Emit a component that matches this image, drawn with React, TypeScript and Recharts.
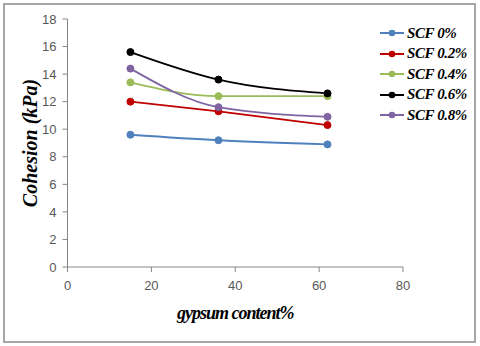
import { LineChart, Line, XAxis, YAxis, Label } from "recharts";

const gypsum = [15, 36, 62];
const scf0 = [9.6, 9.2, 8.9];
const scf02 = [12.0, 11.3, 10.3];
const scf04 = [13.4, 12.4, 12.4];
const scf06 = [15.6, 13.6, 12.6];
const scf08 = [14.4, 11.6, 10.9];
const xTicks = [0, 20, 40, 60, 80];
const yTicks = [0, 2, 4, 6, 8, 10, 12, 14, 16, 18];

const series = [
  { key: "scf0", name: "SCF 0%", values: scf0, color: "#4f81bd" },
  { key: "scf02", name: "SCF 0.2%", values: scf02, color: "#c00000" },
  { key: "scf04", name: "SCF 0.4%", values: scf04, color: "#9bbb59" },
  { key: "scf06", name: "SCF 0.6%", values: scf06, color: "#000000" },
  { key: "scf08", name: "SCF 0.8%", values: scf08, color: "#8064a2" },
];

const data = gypsum.map((g, i) => {
  const row: Record<string, number> = { gypsum: g };
  series.forEach((s) => (row[s.key] = s.values[i]));
  return row;
});

const serif = "'Liberation Serif', serif";
const sans = "'Liberation Sans', Arial, sans-serif";

function LegendBox() {
  return (
    <div style={{ position: "absolute", left: 379, top: 23 }}>
      {series.map((s) => (
        <div key={s.key} style={{ display: "flex", alignItems: "center", height: 20.5 }}>
          <svg width={26} height={10}>
            <line x1={1} y1={5} x2={25} y2={5} stroke={s.color} strokeWidth={2} />
            <circle cx={13} cy={5} r={3.3} fill={s.color} />
          </svg>
          <span
            style={{
              fontFamily: serif,
              fontStyle: "italic",
              fontWeight: "bold",
              fontSize: 15,
              letterSpacing: -0.4,
              color: "#000",
              marginLeft: 2,
              whiteSpace: "nowrap",
            }}
          >
            {s.name}
          </span>
        </div>
      ))}
    </div>
  );
}

export default function App() {
  return (
    <div style={{ position: "absolute", left: 0, top: 0, width: 480, height: 346, background: "#fff" }}>
      <div
        style={{
          position: "absolute",
          left: 3,
          top: 3,
          width: 469,
          height: 336,
          border: "2px solid #a6a6a6",
        }}
      />
      <div style={{ position: "absolute", left: 0, top: 0 }}>
        <LineChart width={480} height={346} data={data} margin={{ top: 19, right: 77, bottom: 0, left: 0 }}>
          <XAxis
            dataKey="gypsum"
            type="number"
            domain={[0, 80]}
            ticks={xTicks}
            height={79}
            stroke="#868686"
            tickSize={5}
            tickMargin={9}
            tick={{ fill: "#595959", fontSize: 13, fontFamily: sans }}
          >
            <Label
              value="gypsum content%"
              position="center"
              dy={6}
              fontFamily={serif}
              fontStyle="italic"
              fontWeight="bold"
              fontSize={18}
              letterSpacing={-1}
              fill="#000"
            />
          </XAxis>
          <YAxis
            type="number"
            domain={[0, 18]}
            ticks={yTicks}
            width={67.5}
            stroke="#868686"
            tickSize={5}
            tickMargin={6}
            tick={{ fill: "#595959", fontSize: 13, fontFamily: sans }}
          >
            <Label
              value="Cohesion (kPa)"
              angle={-90}
              position="center"
              dx={-4}
              fontFamily={serif}
              fontStyle="italic"
              fontWeight="bold"
              fontSize={20}
              fill="#000"
            />
          </YAxis>
          {series.map((s) => (
            <Line
              key={s.key}
              dataKey={s.key}
              name={s.name}
              type="monotone"
              stroke={s.color}
              strokeWidth={1.8}
              dot={{ r: 3.5, fill: s.color, stroke: s.color, strokeWidth: 1 }}
              isAnimationActive={false}
            />
          ))}
        </LineChart>
      </div>
      <LegendBox />
    </div>
  );
}
